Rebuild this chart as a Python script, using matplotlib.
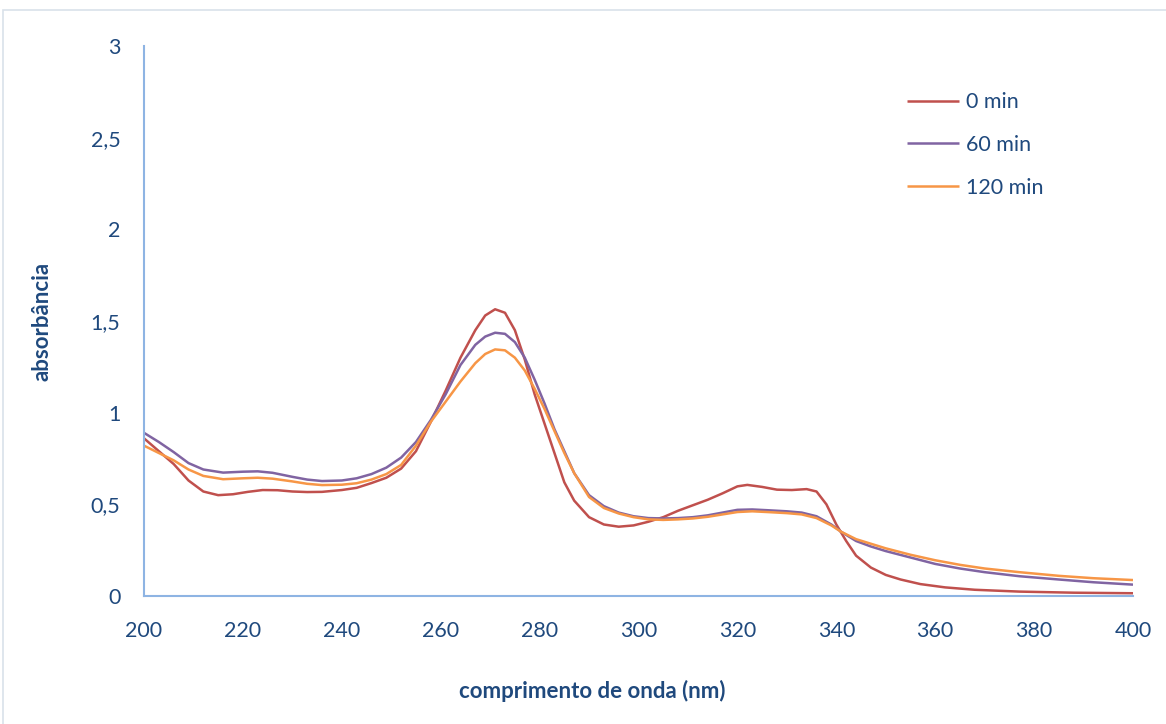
import numpy as np
import matplotlib.pyplot as plt
from matplotlib.patches import Rectangle

# absorbance spectra (wavelength nm, absorbance)
nm_0 = [200, 203, 206, 209, 212, 215, 218, 221, 224, 227, 230, 233, 236, 240, 243, 246,
        249, 252, 255, 258, 261, 264, 267, 269, 271, 273, 275, 277, 279, 281, 283, 285,
        287, 290, 293, 296, 299, 302, 305, 308, 311, 314, 317, 320, 322, 325, 328, 331,
        334, 336, 338, 340, 342, 344, 347, 350, 353, 357, 362, 368, 377, 388, 400]
abs_0 = [0.86, 0.79, 0.72, 0.63, 0.57, 0.55, 0.555, 0.568, 0.578, 0.577, 0.57, 0.567,
         0.568, 0.578, 0.59, 0.616, 0.645, 0.695, 0.79, 0.95, 1.12, 1.30, 1.45, 1.53,
         1.564, 1.545, 1.45, 1.29, 1.10, 0.94, 0.78, 0.62, 0.52, 0.43, 0.39, 0.378, 0.385,
         0.405, 0.43, 0.465, 0.495, 0.525, 0.56, 0.598, 0.606, 0.595, 0.58, 0.578, 0.583,
         0.57, 0.50, 0.39, 0.30, 0.22, 0.155, 0.115, 0.09, 0.065, 0.047, 0.034, 0.024,
         0.018, 0.015]

nm_60 = [200, 203, 206, 209, 212, 216, 220, 223, 226, 230, 233, 236, 240, 243, 246, 249,
         252, 255, 258, 261, 264, 267, 269, 271, 273, 275, 277, 279, 281, 283, 285, 287,
         290, 293, 296, 299, 302, 305, 308, 311, 314, 317, 320, 323, 326, 330, 333, 336,
         339, 341, 344, 347, 350, 355, 360, 365, 370, 377, 385, 392, 400]
abs_60 = [0.89, 0.84, 0.785, 0.725, 0.69, 0.673, 0.678, 0.68, 0.672, 0.65, 0.635, 0.627,
          0.63, 0.642, 0.665, 0.70, 0.755, 0.84, 0.96, 1.10, 1.26, 1.37, 1.415, 1.436,
          1.43, 1.385, 1.30, 1.18, 1.05, 0.91, 0.79, 0.67, 0.55, 0.49, 0.455, 0.435, 0.425,
          0.423, 0.425, 0.43, 0.44, 0.455, 0.47, 0.472, 0.468, 0.462, 0.455, 0.435, 0.39,
          0.35, 0.30, 0.27, 0.245, 0.21, 0.175, 0.15, 0.13, 0.108, 0.09, 0.075, 0.062]

nm_120 = nm_60
abs_120 = [0.82, 0.78, 0.74, 0.69, 0.655, 0.637, 0.642, 0.645, 0.64, 0.625, 0.612, 0.605,
           0.607, 0.615, 0.635, 0.665, 0.715, 0.82, 0.95, 1.06, 1.17, 1.27, 1.32, 1.345,
           1.34, 1.30, 1.23, 1.13, 1.02, 0.90, 0.78, 0.67, 0.54, 0.48, 0.45, 0.43, 0.418,
           0.415, 0.418, 0.423, 0.432, 0.445, 0.458, 0.462, 0.458, 0.452, 0.445, 0.425,
           0.385, 0.35, 0.31, 0.285, 0.26, 0.225, 0.195, 0.17, 0.15, 0.13, 0.11, 0.097,
           0.087]

labels = ["0 min", "60 min", "120 min"]
colors = ["#C0504D", "#8064A2", "#F79646"]
x_ticks = [200, 220, 240, 260, 280, 300, 320, 340, 360, 380, 400]
y_ticks = [0, 0.5, 1, 1.5, 2, 2.5, 3]
y_ticklabels = ["0", "0,5", "1", "1,5", "2", "2,5", "3"]

txt = "#1F497D"
axis_col = "#8EB4E3"
plt.rcParams['font.family'] = ['Lato', 'DejaVu Sans']

W, H = 1166, 724
fig = plt.figure(figsize=(W / 100, H / 100), dpi=100)
fig.patches.append(Rectangle((3 / W, -0.01), 1.02, 1 - 10 / H + 0.01,
                             transform=fig.transFigure, fill=False,
                             edgecolor="#D9E1EA", lw=1.2))

ax = fig.add_axes([144 / W, 1 - 596 / H, (1133 - 144) / W, (596 - 46) / H])
for x, y, lab, c in zip([nm_0, nm_60, nm_120], [abs_0, abs_60, abs_120], labels, colors):
    ax.plot(x, y, color=c, lw=1.8, label=lab, solid_capstyle='butt',
            solid_joinstyle='round')

ax.set_xlim(200, 400)
ax.set_ylim(0, 3)
ax.set_xticks(x_ticks)
ax.set_yticks(y_ticks)
ax.set_yticklabels(y_ticklabels)
ax.tick_params(length=0, labelsize=15.5, colors=txt)
ax.tick_params(axis='y', pad=17)
ax.tick_params(axis='x', pad=18)
for s in ['top', 'right']:
    ax.spines[s].set_visible(False)
for s in ['left', 'bottom']:
    ax.spines[s].set_color(axis_col)
    ax.spines[s].set_linewidth(1.5)

fig.text(592 / W, 1 - 691 / H, "comprimento de onda (nm)", ha='center', va='center',
         fontsize=16, fontweight='bold', color=txt)
fig.text(42 / W, 1 - 321 / H, "absorbância", ha='center', va='center', rotation=90,
         fontsize=16, fontweight='bold', color=txt)

leg = ax.legend(loc='upper left', bbox_to_anchor=(888 / W, 1 - 73 / H),
                bbox_transform=fig.transFigure, frameon=False, fontsize=15.5,
                handlelength=2.4, handletextpad=0.3, labelspacing=1.05)
for t in leg.get_texts():
    t.set_color(txt)

fig.savefig("out.png", dpi=100)
